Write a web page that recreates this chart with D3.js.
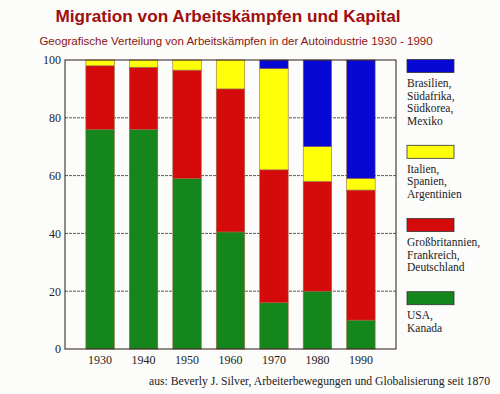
<!DOCTYPE html>
<html>
<head>
<meta charset="utf-8">
<script src="https://cdn.jsdelivr.net/npm/d3@7"></script>
<style>
  body { margin: 0; background: #fcfcfa; }
  svg { display: block; }
</style>
</head>
<body>
<div class="chart"></div>
<script>
let FRAME_WIDTH = 500;
let FRAME_HEIGHT = 394;
let PLOT = {left: 65, right: 396, top: 60, bottom: 349};

// data (percent of strikes)
const YEARS = ["1930", "1940", "1950", "1960", "1970", "1980", "1990"];
const USA = [76, 76, 59, 40.5, 16, 20, 10];
const EUROPA = [22, 21.5, 37.5, 49.5, 46, 38, 45];
const SUED = [2, 2.5, 3.5, 10, 35, 12, 4];
const NEU = [0, 0, 0, 0, 3, 30, 41];
const Y_TICKS = [0, 20, 40, 60, 80, 100];

const KEYS = ["usa", "europa", "sued", "neu"];
const COLORS = {usa: "#14861c", europa: "#d50a0a", sued: "#ffff08", neu: "#0808d4"};
const LEGEND = [
  {key: "neu", lines: ["Brasilien,", "Südafrika,", "Südkorea,", "Mexiko"]},
  {key: "sued", lines: ["Italien,", "Spanien,", "Argentinien"]},
  {key: "europa", lines: ["Großbritannien,", "Frankreich,", "Deutschland"]},
  {key: "usa", lines: ["USA,", "Kanada"]}
];

let rows = YEARS.map((y, i) => ({year: y, usa: USA[i], europa: EUROPA[i], sued: SUED[i], neu: NEU[i]}));

let svg = d3.select(".chart").append("svg")
  .attr("width", FRAME_WIDTH)
  .attr("height", FRAME_HEIGHT);

const SERIF = "'Liberation Serif', 'DejaVu Serif', serif";

// titles
svg.append("text")
  .attr("x", 228).attr("y", 22)
  .attr("text-anchor", "middle")
  .style("font-family", "'Liberation Sans', Arial, sans-serif")
  .style("font-weight", "bold")
  .style("font-size", "17.2px")
  .style("fill", "#a00d0d")
  .text("Migration von Arbeitskämpfen und Kapital");

svg.append("text")
  .attr("x", 236).attr("y", 45)
  .attr("text-anchor", "middle")
  .style("font-family", "'Liberation Sans', Arial, sans-serif")
  .style("font-size", "11.5px")
  .style("fill", "#8a1414")
  .text("Geografische Verteilung von Arbeitskämpfen in der Autoindustrie 1930 - 1990");

const X_SCALE = d3.scaleBand()
  .domain(YEARS)
  .range([PLOT.left, PLOT.right])
  .paddingInner(0.345)
  .paddingOuter(0.48);

const Y_SCALE = d3.scaleLinear()
  .domain([0, 100])
  .range([PLOT.bottom, PLOT.top]);

// grid lines
svg.append("g")
  .selectAll("line")
  .data(Y_TICKS.filter(t => t > 0 && t < 100))
  .enter().append("line")
    .attr("x1", PLOT.left).attr("x2", PLOT.right)
    .attr("y1", d => Y_SCALE(d)).attr("y2", d => Y_SCALE(d))
    .style("stroke", "#333")
    .style("stroke-width", 0.8)
    .style("stroke-dasharray", "3,1");

// stacked bars
let stack = d3.stack().keys(KEYS)(rows);
svg.append("g")
  .selectAll("g")
  .data(stack)
  .enter().append("g")
    .style("fill", d => COLORS[d.key])
  .selectAll("rect")
  .data(d => d.filter(p => p[1] - p[0] > 0))
  .enter().append("rect")
    .attr("x", d => X_SCALE(d.data.year))
    .attr("y", d => Y_SCALE(d[1]))
    .attr("width", X_SCALE.bandwidth())
    .attr("height", d => Y_SCALE(d[0]) - Y_SCALE(d[1]))
    .style("stroke", "#9a6a4a")
    .style("stroke-width", 0.6);

// frame
svg.append("rect")
  .attr("x", PLOT.left).attr("y", PLOT.top)
  .attr("width", PLOT.right - PLOT.left)
  .attr("height", PLOT.bottom - PLOT.top)
  .style("fill", "none")
  .style("stroke", "#2a1a1a")
  .style("stroke-width", 1);

// axes
let yAxis = svg.append("g")
  .attr("transform", "translate(" + PLOT.left + ",0)")
  .call(d3.axisLeft(Y_SCALE).tickValues(Y_TICKS).tickSize(0).tickPadding(4));
yAxis.select(".domain").remove();
yAxis.selectAll("text")
  .style("font-family", SERIF).style("font-size", "12px").style("fill", "#222");

let xAxis = svg.append("g")
  .attr("transform", "translate(0," + PLOT.bottom + ")")
  .call(d3.axisBottom(X_SCALE).tickSize(0).tickPadding(6));
xAxis.select(".domain").remove();
xAxis.selectAll("text")
  .style("font-family", SERIF).style("font-size", "12px").style("fill", "#222");

// legend: box, then lines of text, flowing downwards
let ly = 59.5;
let LINE_H = 12.6;
LEGEND.forEach((item) => {
  svg.append("rect")
    .attr("x", 407).attr("y", ly)
    .attr("width", 47).attr("height", 13)
    .style("fill", COLORS[item.key])
    .style("stroke", "#333")
    .style("stroke-width", 0.8);
  item.lines.forEach((line, j) => {
    svg.append("text")
      .attr("x", 407).attr("y", ly + 27.5 + j * LINE_H)
      .style("font-family", SERIF).style("font-size", "11.5px").style("fill", "#222")
      .text(line);
  });
  ly += 27.5 + (item.lines.length - 1) * LINE_H + 20.5;
});

// source
svg.append("text")
  .attr("x", 149).attr("y", 385)
  .style("font-family", SERIF).style("font-size", "11.7px").style("fill", "#222")
  .text("aus: Beverly J. Silver, Arbeiterbewegungen und Globalisierung seit 1870");
</script>
</body>
</html>
